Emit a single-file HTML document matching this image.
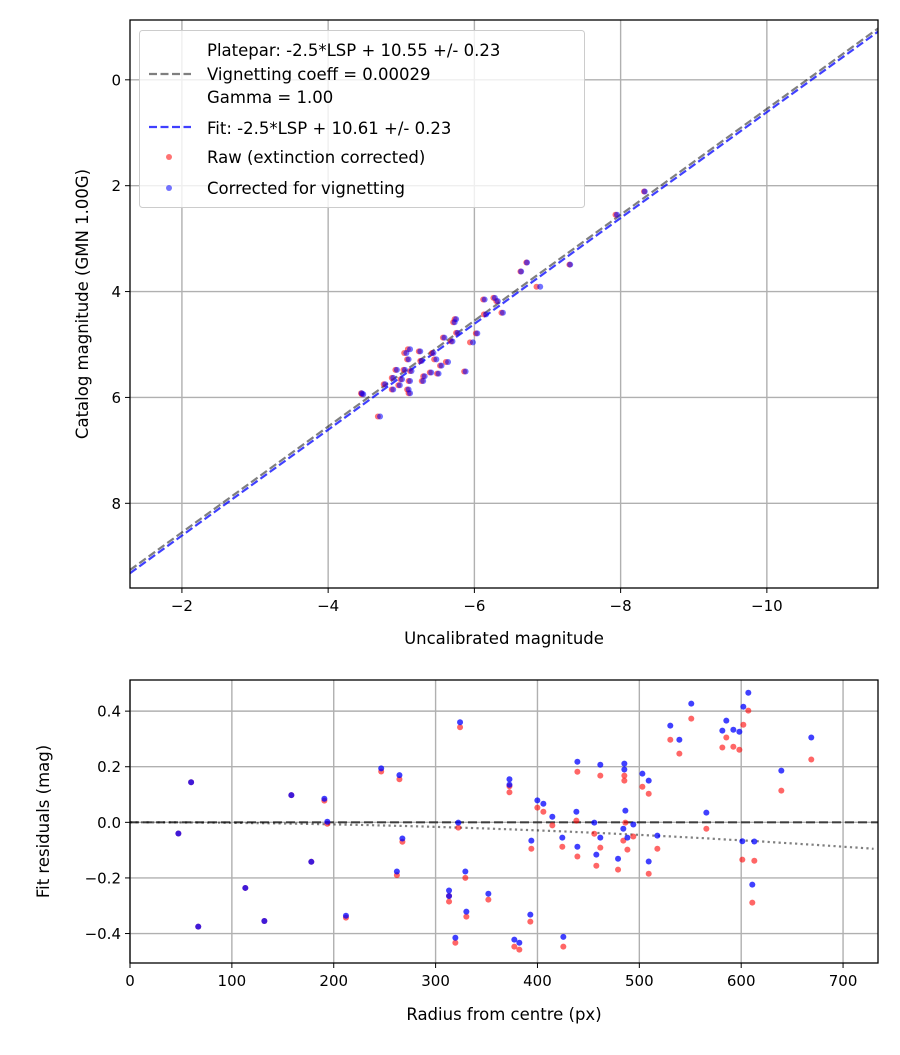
<!DOCTYPE html>
<html><head><meta charset="utf-8"><style>
html,body{margin:0;padding:0;background:#fff}
svg text{font-family:"DejaVu Sans","Liberation Sans",sans-serif;fill:#000}
</style></head><body>
<svg id="chart" width="900" height="1050" xmlns="http://www.w3.org/2000/svg"></svg>
<script>
// ---- Top chart data ----
const topCorrX = [-6.14,-6.28,-6.32,-6.39,-6.16,-5.75,-5.73,-5.77,-6.04,-5.98,-5.59,-5.70,-5.12,-5.07,-5.26,-5.10,-5.44,-5.48,-5.28,-5.64,-5.55,-4.94,-5.05,-5.14,-5.41,-5.51,-5.32,-4.89,-5.01,-5.12,-5.30,-4.78,-4.89,-4.98,-5.10,-5.12,-4.46,-4.71,-7.95,-8.33,-6.90,-7.31,-6.72,-6.64,-4.48,-5.88];
const topRawX  = [-6.12,-6.26,-6.30,-6.37,-6.13,-5.73,-5.71,-5.75,-6.02,-5.94,-5.57,-5.68,-5.09,-5.04,-5.24,-5.08,-5.42,-5.45,-5.26,-5.61,-5.53,-4.92,-5.03,-5.12,-5.39,-5.49,-5.30,-4.87,-4.99,-5.10,-5.28,-4.76,-4.87,-4.96,-5.08,-5.10,-4.45,-4.68,-7.93,-8.32,-6.85,-7.30,-6.71,-6.63,-4.46,-5.86];
const topCatY  = [4.15,4.12,4.18,4.40,4.43,4.52,4.58,4.78,4.79,4.96,4.87,4.94,5.09,5.16,5.13,5.28,5.16,5.28,5.31,5.33,5.40,5.48,5.48,5.50,5.53,5.55,5.60,5.63,5.66,5.69,5.69,5.75,5.85,5.77,5.85,5.92,5.92,6.36,2.55,2.11,3.91,3.49,3.45,3.62,5.94,5.51];
const topXTicks = [-2,-4,-6,-8,-10];
const topYTicks = [0,2,4,6,8];
const plateparIntercept = 10.55;
const fitIntercept = 10.61;
// ---- Bottom chart data ----
const resRadius = [47.5,60,67,113.2,131.9,158.4,178,190.8,193.7,212,246.6,262,264.5,267.4,313.2,313.2,319.4,322.3,324,329.2,330.2,351.8,372.5,372.5,377.3,382.2,393,394,399.9,405.8,414.6,424.4,425.4,438.2,439.2,439.2,455.8,457.8,461.7,461.7,479.1,484.3,485.3,485.3,486.3,488.3,494.1,503,509.2,509.2,517.7,530.4,539.3,551,565.8,581.5,585.4,592.3,598.2,601.1,602.1,607,610.9,612.9,639.4,668.8];
const resRaw = [-0.04,0.144,-0.375,-0.236,-0.355,0.098,-0.142,0.078,-0.005,-0.343,0.183,-0.19,0.155,-0.07,-0.265,-0.285,-0.433,-0.019,0.342,-0.2,-0.339,-0.278,0.13,0.108,-0.447,-0.458,-0.357,-0.095,0.053,0.038,-0.011,-0.088,-0.447,0.006,0.182,-0.123,-0.041,-0.156,0.168,-0.091,-0.17,-0.066,0.168,0.15,-0.001,-0.098,-0.051,0.128,0.103,-0.185,-0.095,0.297,0.247,0.373,-0.023,0.269,0.305,0.272,0.261,-0.134,0.351,0.402,-0.289,-0.138,0.114,0.226];
const resCorr = [-0.04,0.144,-0.375,-0.236,-0.355,0.098,-0.142,0.085,0.002,-0.336,0.194,-0.177,0.17,-0.058,-0.245,-0.265,-0.415,-0.001,0.36,-0.177,-0.321,-0.257,0.135,0.155,-0.422,-0.433,-0.332,-0.066,0.079,0.067,0.02,-0.055,-0.412,0.038,0.218,-0.088,-0.001,-0.116,0.207,-0.055,-0.131,-0.023,0.211,0.19,0.042,-0.055,-0.008,0.175,0.15,-0.141,-0.048,0.348,0.297,0.427,0.035,0.33,0.366,0.333,0.326,-0.068,0.416,0.466,-0.224,-0.069,0.186,0.305];
const resXTicks = [0,100,200,300,400,500,600,700];
const resYTicks = [0.4,0.2,0.0,-0.2,-0.4];
const vignCoeff = 0.00029;

const NS='http://www.w3.org/2000/svg';
const svg=document.getElementById('chart');
function mk(tag,attrs,parent){const e=document.createElementNS(NS,tag);for(const k in attrs)e.setAttribute(k,attrs[k]);(parent||svg).appendChild(e);return e;}
function fmt(v,d){let s=v.toFixed(d);if(v<0&&parseFloat(s)!==0)s='\u2212'+s.slice(1);if(parseFloat(s)===0)s=(0).toFixed(d);return s;}
const GW=1.4, DR=3;

// Top axes
const T={l:130,t:20,r:878,b:588,x0:-1.29,x1:-11.52,y0:-1.13,y1:9.60};
const tx=v=>T.l+(v-T.x0)/(T.x1-T.x0)*(T.r-T.l);
const ty=v=>T.t+(v-T.y0)/(T.y1-T.y0)*(T.b-T.t);
const gTop=mk('g',{});


const clip=mk('clipPath',{id:'ct'});mk('rect',{x:T.l,y:T.t,width:T.r-T.l,height:T.b-T.t},clip);
const clip2=mk('clipPath',{id:'cb'});mk('rect',{x:130,y:680,width:748,height:283},clip2);
topXTicks.forEach(v=>{const x=tx(v);
 const g=mk('line',{x1:x,x2:x,y1:T.t,y2:T.b,stroke:'#b0b0b0','stroke-width':GW},gTop);
 
 mk('line',{x1:x,x2:x,y1:T.b,y2:T.b+5,stroke:'#000'},gTop);
 const t=mk('text',{x:x,y:T.b+23,'text-anchor':'middle','font-size':15},gTop);t.textContent=fmt(v,0);
 });
topYTicks.forEach(v=>{const y=ty(v);
 const g=mk('line',{x1:T.l,x2:T.r,y1:y,y2:y,stroke:'#b0b0b0','stroke-width':GW},gTop);
 
 mk('line',{x1:T.l-5,x2:T.l,y1:y,y2:y,stroke:'#000'},gTop);
 const t=mk('text',{x:T.l-9,y:y+5.5,'text-anchor':'end','font-size':15},gTop);t.textContent=fmt(v,0);
 });
const pl=mk('line',{x1:tx(T.x0),y1:ty(T.x0+plateparIntercept),x2:tx(T.x1),y2:ty(T.x1+plateparIntercept),stroke:'#000','stroke-opacity':0.5,'stroke-width':2.2,'stroke-dasharray':'8,3.5','clip-path':'url(#ct)'},gTop);

const fl=mk('line',{x1:tx(T.x0),y1:ty(T.x0+fitIntercept),x2:tx(T.x1),y2:ty(T.x1+fitIntercept),stroke:'#0000ff','stroke-opacity':0.75,'stroke-width':2.2,'stroke-dasharray':'8,3.5','clip-path':'url(#ct)'},gTop);

topRawX.forEach((v,i)=>{const c=mk('circle',{cx:tx(v),cy:ty(topCatY[i]),r:DR,fill:'#ff0000','fill-opacity':0.55},gTop);
 });
topCorrX.forEach((v,i)=>{const c=mk('circle',{cx:tx(v),cy:ty(topCatY[i]),r:DR,fill:'#0000ff','fill-opacity':0.55},gTop);
 });
const fr=mk('rect',{x:T.l,y:T.t,width:T.r-T.l,height:T.b-T.t,fill:'none',stroke:'#000','stroke-width':1.3},gTop);

let xt=mk('text',{x:(T.l+T.r)/2,y:644,'text-anchor':'middle','font-size':16.5},gTop);xt.textContent='Uncalibrated magnitude';

let yt=mk('text',{x:0,y:0,'text-anchor':'middle','font-size':16.5,transform:`translate(88,${(T.t+T.b)/2}) rotate(-90)`},gTop);yt.textContent='Catalog magnitude (GMN 1.00G)';


// Legend
const lg=mk('g',{},gTop);

mk('rect',{x:139.5,y:30.5,width:445,height:177,rx:3,fill:'#fff','fill-opacity':0.8,stroke:'#ccc'},lg);
const lt=(s,y)=>{const t=mk('text',{x:207,y:y,'font-size':16.5},lg);t.textContent=s;};
lt('Platepar: -2.5*LSP + 10.55 +/- 0.23',56);lt('Vignetting coeff = 0.00029',80);lt('Gamma = 1.00',103);
lt('Fit: -2.5*LSP + 10.61 +/- 0.23',134);lt('Raw (extinction corrected)',163);lt('Corrected for vignetting',194);
mk('line',{x1:149,x2:191,y1:74,y2:74,stroke:'#000','stroke-opacity':0.5,'stroke-width':2.2,'stroke-dasharray':'8,3.5'},lg);
mk('line',{x1:149,x2:191,y1:127,y2:127,stroke:'#0000ff','stroke-opacity':0.75,'stroke-width':2.2,'stroke-dasharray':'8,3.5'},lg);
mk('circle',{cx:169,cy:157,r:DR,fill:'#ff0000','fill-opacity':0.55},lg);
mk('circle',{cx:169,cy:188,r:DR,fill:'#0000ff','fill-opacity':0.55},lg);

// Bottom axes
const B={l:130,t:680,r:878,b:963,x0:0,x1:734.3,y0:0.512,y1:-0.506};
const bx=v=>B.l+(v-B.x0)/(B.x1-B.x0)*(B.r-B.l);
const by=v=>B.t+(v-B.y0)/(B.y1-B.y0)*(B.b-B.t);
const gB=mk('g',{});

resXTicks.forEach(v=>{const x=bx(v);
 const g=mk('line',{x1:x,x2:x,y1:B.t,y2:B.b,stroke:'#b0b0b0','stroke-width':GW},gB);
 
 mk('line',{x1:x,x2:x,y1:B.b,y2:B.b+5,stroke:'#000'},gB);
 const t=mk('text',{x:x,y:B.b+23,'text-anchor':'middle','font-size':15},gB);t.textContent=String(v);
 });
resYTicks.forEach(v=>{const y=by(v);
 const g=mk('line',{x1:B.l,x2:B.r,y1:y,y2:y,stroke:'#b0b0b0','stroke-width':GW},gB);
 
 mk('line',{x1:B.l-5,x2:B.l,y1:y,y2:y,stroke:'#000'},gB);
 const t=mk('text',{x:B.l-9,y:y+5.5,'text-anchor':'end','font-size':15},gB);t.textContent=fmt(v,1);
 });
const zl=mk('line',{x1:B.l,x2:B.r,y1:by(0),y2:by(0),stroke:'#000','stroke-opacity':0.65,'stroke-width':2.2,'stroke-dasharray':'9,4'},gB);

let d='';for(let r=0;r<=B.x1;r+=5){const v=-5*Math.log10(1+Math.pow(vignCoeff*r,2));d+=(r?'L':'M')+bx(r).toFixed(1)+','+by(v).toFixed(1);}
const vc=mk('path',{d:d,fill:'none',stroke:'#000','stroke-opacity':0.5,'stroke-width':2.2,'stroke-dasharray':'2.2,3.3'},gB);

resRadius.forEach((r,i)=>{const c=mk('circle',{cx:bx(r),cy:by(resRaw[i]),r:DR,fill:'#ff0000','fill-opacity':0.6,'clip-path':'url(#cb)'},gB);
 });
resRadius.forEach((r,i)=>{const c=mk('circle',{cx:bx(r),cy:by(resCorr[i]),r:DR,fill:'#0000ff','fill-opacity':0.75,'clip-path':'url(#cb)'},gB);
 });
const fb=mk('rect',{x:B.l,y:B.t,width:B.r-B.l,height:B.b-B.t,fill:'none',stroke:'#000','stroke-width':1.3},gB);

xt=mk('text',{x:(B.l+B.r)/2,y:1020,'text-anchor':'middle','font-size':16.5},gB);xt.textContent='Radius from centre (px)';

yt=mk('text',{x:0,y:0,'text-anchor':'middle','font-size':16.5,transform:`translate(49,${(B.t+B.b)/2}) rotate(-90)`},gB);yt.textContent='Fit residuals (mag)';

</script>
</body></html>
